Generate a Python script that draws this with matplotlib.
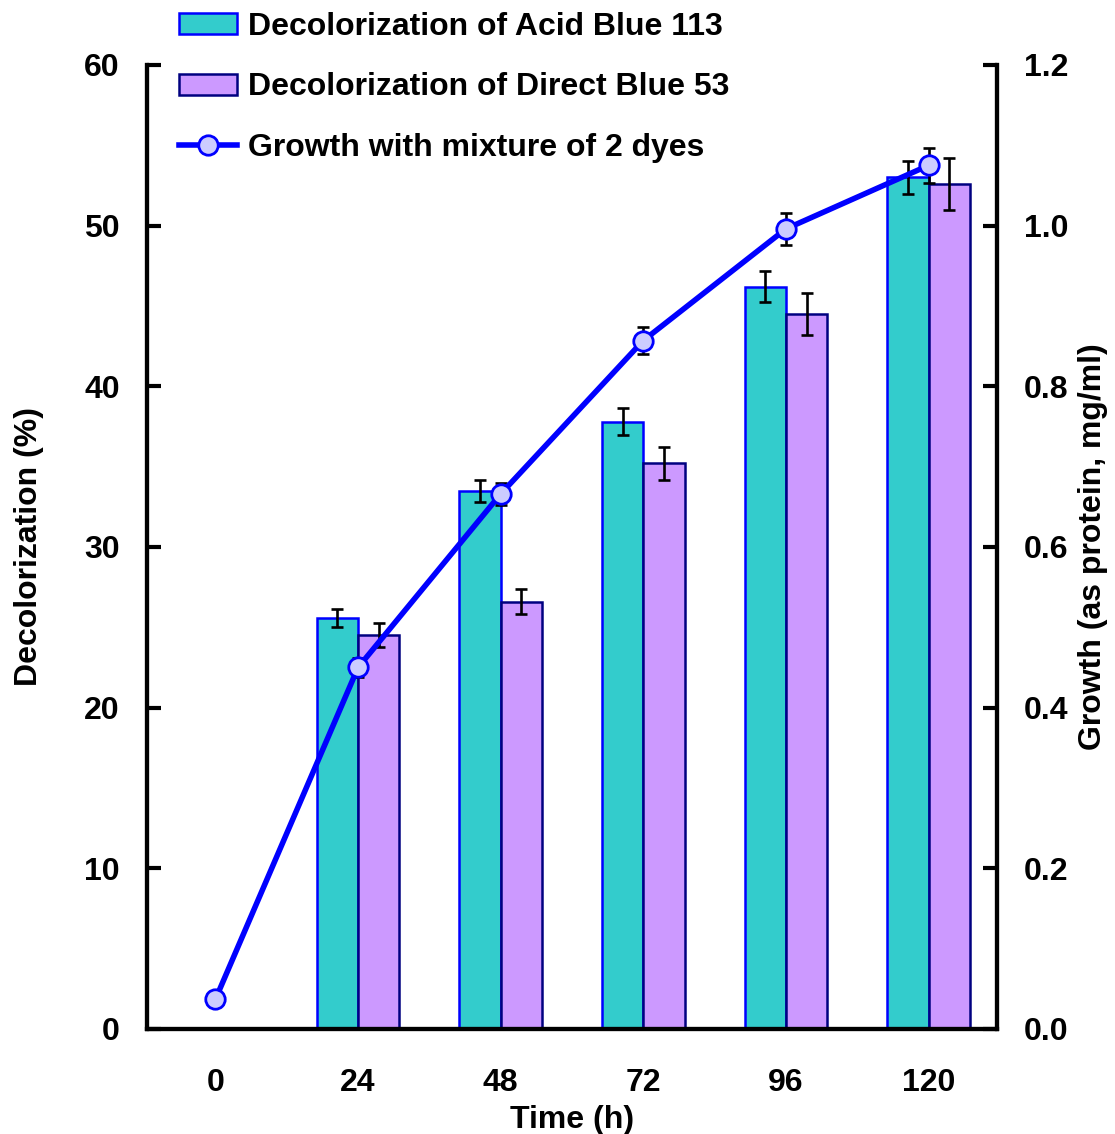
import matplotlib
matplotlib.use("Agg")
import matplotlib.pyplot as plt
import numpy as np

plt.rcParams['font.family'] = ['Liberation Sans', 'DejaVu Sans']
plt.rcParams['font.weight'] = 'bold'

# Sampling times (h)
times = ["0", "24", "48", "72", "96", "120"]

# Decolorization (%) measured from 24 h onwards
bar_times = ["24", "48", "72", "96", "120"]
acid_blue = [25.6, 33.5, 37.8, 46.2, 53.0]
acid_blue_err = [0.55, 0.7, 0.85, 0.95, 1.05]
direct_blue = [24.5, 26.6, 35.2, 44.5, 52.6]
direct_blue_err = [0.75, 0.8, 1.05, 1.3, 1.6]

# Growth as protein (mg/ml)
growth = [0.037, 0.45, 0.666, 0.857, 0.996, 1.075]
growth_err = [0.0, 0.012, 0.014, 0.017, 0.02, 0.022]

FS = 23

fig = plt.figure(figsize=(11.15, 11.34), dpi=100)
ax = fig.add_axes([0.1318, 0.0926, 0.7624, 0.8501])
ax2 = ax.twinx()

x_all = np.arange(len(times))
x_bar = np.array([times.index(t) for t in bar_times])
w = 0.29

err_kw = dict(ecolor='black', elinewidth=1.9, capsize=4.5, capthick=1.9)
b1 = ax.bar(x_bar - w / 2, acid_blue, w, color='#33CCCC', edgecolor='#0000FF',
            linewidth=1.8, yerr=acid_blue_err, error_kw=err_kw,
            label='Decolorization of Acid Blue 113')
b2 = ax.bar(x_bar + w / 2, direct_blue, w, color='#CC99FF', edgecolor='#000080',
            linewidth=1.8, yerr=direct_blue_err, error_kw=err_kw,
            label='Decolorization of Direct Blue 53')

ax2.errorbar(x_all, growth, yerr=growth_err, fmt='none', ecolor='black',
             elinewidth=1.9, capsize=4.5, capthick=1.9, zorder=2)
ln, = ax2.plot(x_all, growth, color='#0000FF', linewidth=4, marker='o',
               markersize=14, markerfacecolor='#CCCCFF', markeredgecolor='#0000FF',
               markeredgewidth=2, label='Growth with mixture of 2 dyes', zorder=3)

ax.set_xlim(-0.48, 5.48)
ax.set_ylim(0, 60)
ax2.set_ylim(0, 1.2)
ax.set_xticks(x_all)
ax.set_xticklabels(times)
ax.set_yticks(np.arange(0, 61, 10))
ax2.set_yticks(np.arange(0, 1.21, 0.2))
ax2.set_yticklabels([f"{v:.1f}" for v in np.arange(0, 1.21, 0.2)])

for a in (ax, ax2):
    a.spines['top'].set_visible(False)
    for s in ('left', 'right', 'bottom'):
        a.spines[s].set_linewidth(3)
ax.tick_params(axis='y', direction='in', length=10, width=3, labelsize=FS, pad=19.5)
ax.tick_params(axis='x', length=0, labelsize=FS, pad=28)
ax2.tick_params(axis='y', direction='in', length=10, width=3, labelsize=FS, pad=19.5)

ax.set_xlabel('Time (h)', fontsize=FS, fontweight='bold', labelpad=5)
ax.set_ylabel('Decolorization (%)', fontsize=FS, fontweight='bold', labelpad=29)
ax2.set_ylabel('Growth (as protein, mg/ml)', fontsize=FS, fontweight='bold', labelpad=7)

leg = fig.legend(handles=[b1, b2, ln], loc='upper left',
                 bbox_to_anchor=(0.135, 1.015), frameon=False,
                 prop={'size': FS, 'weight': 'bold'},
                 handlelength=1.82, handleheight=0.65, handletextpad=0.32,
                 labelspacing=0.96)

fig.savefig('out.png', dpi=100)
